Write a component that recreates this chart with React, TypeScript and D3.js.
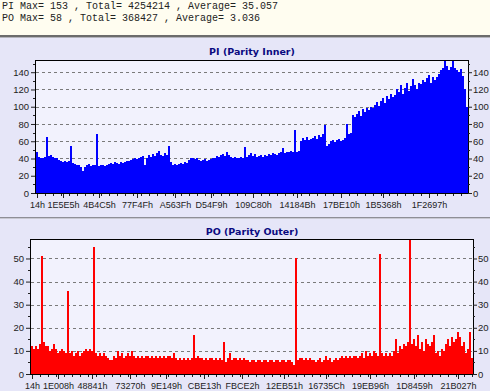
import { useEffect, useRef } from 'react';
import * as d3 from 'd3';

// header text lines
const headerLines = [
  'PI Max= 153 , Total= 4254214 , Average= 35.057',
  'PO Max= 58 , Total= 368427 , Average= 3.036',
];

// PI (Parity Inner) values, one per bar
const piValues = [
  48, 42, 40, 41, 42, 65, 43, 44, 42, 41, 40, 38, 37, 36, 37, 36, 37, 54, 35, 34,
  33, 32, 30, 26, 30, 32, 34, 31, 33, 32, 68, 31, 32, 33, 31, 33, 34, 35, 34, 36,
  35, 34, 36, 35, 36, 37, 37, 38, 39, 40, 39, 41, 42, 43, 33, 40, 44, 42, 45, 43,
  46, 49, 44, 43, 46, 44, 55, 36, 33, 34, 32, 34, 35, 34, 36, 35, 38, 40, 41, 39,
  40, 38, 37, 38, 39, 37, 38, 39, 40, 41, 43, 42, 44, 45, 43, 48, 44, 42, 41, 42,
  40, 41, 42, 41, 53, 42, 44, 46, 43, 45, 42, 43, 44, 42, 44, 43, 45, 44, 46, 45,
  44, 46, 47, 52, 46, 48, 47, 49, 48, 73, 48, 49, 60, 64, 62, 65, 61, 63, 64, 66,
  63, 67, 65, 68, 79, 55, 57, 60, 62, 59, 61, 63, 60, 62, 64, 80, 68, 70, 90, 88,
  92, 95, 89, 97, 94, 99, 96, 100, 98, 102, 105, 101, 107, 110, 104, 112, 109, 115, 111, 114,
  120, 117, 125, 115, 122, 127, 118, 124, 132, 125, 121, 128, 126, 131, 129, 133, 137, 128, 134, 131,
  135, 138, 142, 145, 153, 147, 143, 146, 153, 145, 142, 140, 144, 136, 120, 100,
];
const piLabels = ['14h', '1E5E5h', '4B4C5h', '77F4Fh', 'A563Fh', 'D54F9h', '109C80h', '14184Bh', '17BE10h', '1B5368h', '1F2697h'];
const piLabelIdx = [0, 13, 31, 50, 69, 87, 108, 130, 152, 173, 196];

// PO (Parity Outer) values, one per bar
const poValues = [
  12, 11, 12, 11, 13, 51, 14, 12, 12, 10, 11, 13, 11, 9, 10, 11, 10, 9, 36, 9,
  10, 8, 9, 10, 8, 9, 10, 11, 10, 11, 10, 55, 9, 8, 9, 8, 9, 8, 7, 6,
  6, 8, 7, 10, 8, 9, 7, 8, 9, 8, 10, 8, 7, 8, 7, 8, 7, 8, 8, 7,
  8, 7, 8, 7, 8, 7, 8, 7, 8, 8, 7, 9, 7, 6, 7, 6, 7, 6, 7, 6,
  7, 17, 7, 8, 7, 7, 6, 7, 6, 7, 7, 6, 7, 6, 7, 6, 14, 5, 7, 9,
  6, 7, 7, 6, 7, 6, 7, 6, 6, 5, 6, 6, 5, 6, 6, 5, 6, 6, 5, 6,
  6, 5, 6, 6, 5, 6, 6, 5, 6, 6, 5, 4, 50, 6, 7, 7, 6, 7, 6, 7,
  6, 6, 5, 6, 7, 5, 6, 8, 6, 7, 5, 6, 7, 6, 7, 8, 7, 8, 7, 8,
  7, 8, 8, 7, 8, 9, 7, 10, 8, 9, 8, 10, 9, 8, 52, 9, 8, 9, 8, 9,
  8, 10, 15, 9, 12, 11, 13, 12, 14, 58, 13, 15, 12, 17, 11, 14, 10, 15, 13, 12,
  14, 17, 9, 10, 8, 11, 10, 13, 15, 12, 16, 14, 15, 18, 16, 12, 14, 9, 11, 18,
  7,
];
const poLabels = ['14h', '1E008h', '48841h', '73270h', '9E149h', 'CBE13h', 'FBCE2h', '12EB51h', '16735Ch', '19EB96h', '1D8459h', '21B027h'];
const poLabelIdx = [0, 13, 30, 49, 67, 86, 105, 126, 147, 169, 191, 213];

const W = 490;
const H = 391;
const AXIS_FONT = '"Liberation Sans", Arial, sans-serif';

interface PanelOpts {
  values: number[];
  labels: string[];
  labelIdx: number[];
  color: string;
  title: string;
  x0: number;
  x1: number;
  y0: number;
  y1: number;
  step: number;
  titleY: number;
}

function drawPanel(svg: d3.Selection<SVGSVGElement, undefined, null, undefined>, o: PanelOpts) {
  const n = o.values.length;
  const yMax = d3.max(o.values) as number;
  const x = d3.scaleBand<number>().domain(d3.range(n)).range([o.x0, o.x1]);
  const y = d3.scaleLinear().domain([0, yMax]).range([o.y1, o.y0]);
  const major = d3.range(0, yMax + 0.001, o.step);
  const minor = d3.range(o.step / 2, yMax, o.step);
  const bw = x.bandwidth();

  const g = svg.append('g');

  // plot background
  g.append('rect')
    .attr('x', o.x0)
    .attr('y', o.y0)
    .attr('width', o.x1 - o.x0)
    .attr('height', o.y1 - o.y0)
    .attr('fill', '#f2f2fd');

  // dashed grid
  g.append('g')
    .selectAll('line')
    .data(major.filter(v => v > 0))
    .join('line')
    .attr('x1', o.x0)
    .attr('x2', o.x1)
    .attr('y1', v => Math.round(y(v)) + 0.5)
    .attr('y2', v => Math.round(y(v)) + 0.5)
    .attr('stroke', '#7a7a7a')
    .attr('stroke-dasharray', '3,3');

  // bars
  g.append('g')
    .attr('shape-rendering', 'crispEdges')
    .selectAll('rect')
    .data(o.values)
    .join('rect')
    .attr('x', (_, i) => x(i) as number)
    .attr('width', bw)
    .attr('y', v => y(v))
    .attr('height', v => y(0) - y(v))
    .attr('fill', o.color);

  // frame
  g.append('rect')
    .attr('x', o.x0 - 0.5)
    .attr('y', o.y0 - 0.5)
    .attr('width', o.x1 - o.x0 + 1)
    .attr('height', o.y1 - o.y0 + 1)
    .attr('fill', 'none')
    .attr('stroke', '#000');

  const styleAxis = (a: d3.Selection<SVGGElement, undefined, null, undefined>, size: number) => {
    a.select('.domain').remove();
    a.attr('font-size', size).attr('font-family', AXIS_FONT).attr('color', '#222');
  };

  // left / right y axes
  const left = svg
    .append('g')
    .attr('transform', `translate(${o.x0 - 1},0)`)
    .call(d3.axisLeft(y).tickValues(major).tickSize(4).tickPadding(2).tickFormat(d3.format('d')));
  styleAxis(left, 9.5);
  const right = svg
    .append('g')
    .attr('transform', `translate(${o.x1},0)`)
    .call(d3.axisRight(y).tickValues(major).tickSize(4).tickPadding(1).tickFormat(d3.format('d')));
  styleAxis(right, 9.5);

  // minor y ticks
  const minorY = svg.append('g').attr('stroke', '#222');
  minor.forEach(v => {
    const yy = Math.round(y(v)) + 0.5;
    minorY.append('line').attr('x1', o.x0 - 3).attr('x2', o.x0 - 1).attr('y1', yy).attr('y2', yy);
    minorY.append('line').attr('x1', o.x1).attr('x2', o.x1 + 2).attr('y1', yy).attr('y2', yy);
  });

  // bottom axis with address labels
  const xPos = d3
    .scaleOrdinal<number, number>()
    .domain(o.labelIdx)
    .range(o.labelIdx.map(i => (x(i) as number) + bw / 2));
  const xLin = d3.scaleLinear().domain([0, 1]).range([0, 1]);
  const bottom = svg
    .append('g')
    .attr('transform', `translate(0,${o.y1 + 1})`)
    .call(
      d3
        .axisBottom(xLin)
        .tickValues(o.labelIdx.map(i => xPos(i)))
        .tickSize(4)
        .tickPadding(4)
        .tickFormat((_, k) => o.labels[k]),
    );
  styleAxis(bottom, 9);

  // minor x ticks
  svg
    .append('g')
    .attr('stroke', '#222')
    .selectAll('line')
    .data(d3.range(0, n, 4))
    .join('line')
    .attr('x1', i => Math.round((x(i) as number) + bw / 2) + 0.5)
    .attr('x2', i => Math.round((x(i) as number) + bw / 2) + 0.5)
    .attr('y1', o.y1 + 1)
    .attr('y2', o.y1 + 3);

  // title
  svg
    .append('text')
    .attr('x', (o.x0 + o.x1) / 2)
    .attr('y', o.titleY)
    .attr('text-anchor', 'middle')
    .attr('font-family', '"DejaVu Sans", Verdana, sans-serif')
    .attr('font-weight', 'bold')
    .attr('font-size', 9.5)
    .attr('fill', '#0a0a80')
    .text(o.title);
}

function buildChart() {
  const svg = d3
    .create('svg')
    .attr('width', W)
    .attr('height', H)
    .attr('viewBox', [0, 0, W, H])
    .style('display', 'block');

  // header area
  svg.append('rect').attr('width', W).attr('height', 35).attr('fill', '#fffdf0');
  svg.append('rect').attr('y', 37).attr('width', W).attr('height', H - 37).attr('fill', '#e6e6f8');
  svg.append('rect').attr('y', 35).attr('width', W).attr('height', 2).attr('fill', '#6c6c6c');
  svg.append('rect').attr('y', 37).attr('width', W).attr('height', 1).attr('fill', '#b4b4bc');

  svg
    .append('g')
    .selectAll('text')
    .data(headerLines)
    .join('text')
    .attr('x', 2)
    .attr('y', (_, i) => 9 + i * 12)
    .attr('font-family', '"Liberation Mono", "Courier New", monospace')
    .attr('font-size', 10)
    .attr('fill', '#222')
    .text(d => d);

  // splitter between panels
  svg.append('rect').attr('y', 217).attr('width', W).attr('height', 1).attr('fill', '#8e8e96');
  svg.append('rect').attr('y', 218).attr('width', W).attr('height', 1).attr('fill', '#c8c8d2');

  drawPanel(svg, {
    values: piValues,
    labels: piLabels,
    labelIdx: piLabelIdx,
    color: '#0000ff',
    title: 'PI (Parity Inner)',
    x0: 36,
    x1: 468,
    y0: 61,
    y1: 193,
    step: 20,
    titleY: 55,
  });

  drawPanel(svg, {
    values: poValues,
    labels: poLabels,
    labelIdx: poLabelIdx,
    color: '#ff0000',
    title: 'PO (Parity Outer)',
    x0: 31,
    x1: 473,
    y0: 240,
    y1: 374,
    step: 10,
    titleY: 235,
  });

  return svg.node() as Node;
}

const App = () => {
  const containerRef = useRef<HTMLDivElement | null>(null);

  useEffect(() => {
    if (!containerRef.current) return;
    containerRef.current.innerHTML = '';
    containerRef.current.append(buildChart());
  }, []);

  return <div ref={containerRef} style={{ position: 'absolute', left: 0, top: 0 }} />;
};

export default App;
